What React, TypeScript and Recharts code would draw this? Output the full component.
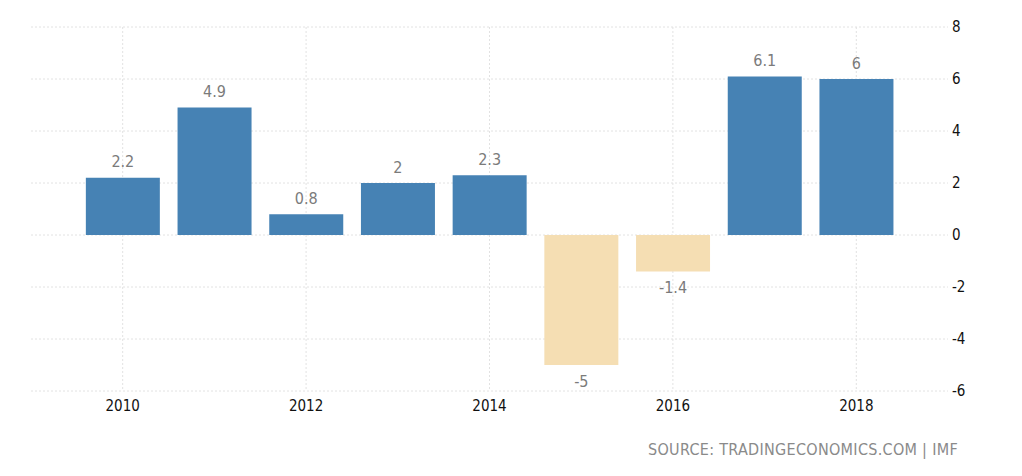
import { BarChart, Bar, XAxis, YAxis, CartesianGrid, Cell, LabelList } from "recharts";

const years = [2010, 2011, 2012, 2013, 2014, 2015, 2016, 2017, 2018];
const values = [2.2, 4.9, 0.8, 2, 2.3, -5, -1.4, 6.1, 6];
const xTicks = [2010, 2012, 2014, 2016, 2018];
const yTicks = [-6, -4, -2, 0, 2, 4, 6, 8];

const data = years.map((year, i) => ({ year, value: values[i] }));

const font = "'DejaVu Sans Condensed', 'Open Sans', sans-serif";

function ValueLabel(props: any) {
  const { x, y, width, height, value } = props;
  const top = Math.min(y, y + height);
  const bottom = Math.max(y, y + height);
  const cy = value >= 0 ? top - 16 : bottom + 16;
  return (
    <text
      x={x + width / 2}
      y={cy}
      textAnchor="middle"
      dominantBaseline="central"
      fill="#7b7b7b"
      fontSize={16}
      fontFamily={font}
    >
      {value}
    </text>
  );
}

export default function App() {
  return (
    <div style={{ position: "absolute", left: 0, top: 0, width: 1022, height: 476, background: "#fff" }}>
      <BarChart
        width={1022}
        height={476}
        data={data}
        margin={{ top: 27, right: 0, bottom: 55, left: 31 }}
      >
        {/* syncWithTicks keeps the grid off the plot edges */}
        <CartesianGrid stroke="#e2e2e2" strokeDasharray="2 2" syncWithTicks />
        <XAxis
          dataKey="year"
          type="number"
          domain={[2009, 2019]}
          ticks={xTicks}
          axisLine={false}
          tickLine={false}
          tickSize={0}
          tickMargin={9}
          height={30}
          tick={{ fill: "#111", fontSize: 15, fontFamily: font }}
        />
        <YAxis
          orientation="right"
          domain={[-6, 8]}
          ticks={yTicks}
          axisLine={false}
          tickLine={false}
          tickSize={0}
          tickMargin={4}
          width={74}
          tick={{ fill: "#111", fontSize: 15, fontFamily: font }}
        />
        <Bar dataKey="value" barSize={74} isAnimationActive={false}>
          {data.map((d) => (
            <Cell key={d.year} fill={d.value >= 0 ? "#4682b4" : "#f5deb3"} />
          ))}
          <LabelList dataKey="value" content={ValueLabel} />
        </Bar>
      </BarChart>
      <div
        style={{
          position: "absolute",
          right: 1022 - 958,
          top: 440,
          fontFamily: font,
          fontSize: 16,
          color: "#8a8a8a",
          letterSpacing: 0.3,
          whiteSpace: "nowrap",
        }}
      >
        SOURCE: TRADINGECONOMICS.COM | IMF
      </div>
    </div>
  );
}
